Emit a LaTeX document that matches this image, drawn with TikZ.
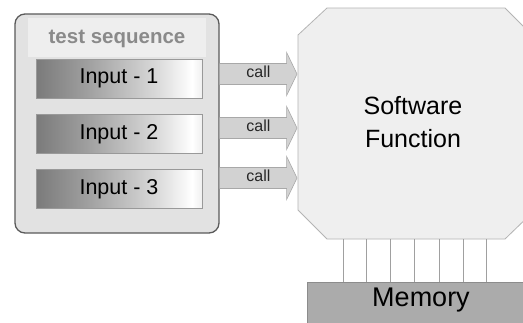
\documentclass[tikz,border=0pt]{standalone}
\usepackage{fontspec}
\setmainfont{Liberation Sans}
\usetikzlibrary{calc}
\definecolor{boxfill}{HTML}{E2E2E2}
\definecolor{bandfill}{HTML}{EEEEEE}
\definecolor{boxline}{HTML}{5A5A5A}
\definecolor{titlegray}{HTML}{8A8A8A}
\definecolor{arrowfill}{HTML}{D2D2D2}
\definecolor{arrowline}{HTML}{A8A8A8}
\definecolor{funcfill}{HTML}{EFEFEF}
\definecolor{funcline}{HTML}{B4B4B4}
\definecolor{memfill}{HTML}{ABABAB}
\definecolor{memline}{HTML}{8C8C8C}
\definecolor{busline}{HTML}{A0A0A0}
\pgfdeclarehorizontalshading{inputshade}{100bp}{
  color(0bp)=(black!52); color(25bp)=(black!52); color(40bp)=(black!38);
  color(62bp)=(black!14); color(72bp)=(white); color(78bp)=(black!12);
  color(88bp)=(black!30); color(100bp)=(black!48)}
\tikzset{
  inputbox/.style={draw=black!40, line width=0.6pt, shading=inputshade,
    minimum width=166pt, minimum height=39pt, inner sep=0pt,
    font=\fontsize{21.5}{23}\selectfont},
  callarrow/.style={fill=arrowfill, draw=arrowline, line width=0.6pt},
  calltext/.style={font=\fontsize{16}{17}\selectfont, text=black!85},
  bus/.style={draw=busline, line width=0.6pt},
}
\begin{document}
\begin{tikzpicture}[x=1pt,y=-1pt]
\useasboundingbox[fill=white] (0,0) rectangle (523,322);

% test sequence container
\node[draw=boxline, line width=1.3pt, fill=boxfill, rounded corners=10pt,
  minimum width=204pt, minimum height=219pt, inner sep=0pt] (seq) at (117,123.5) {};
\node[fill=bandfill, minimum width=178pt, minimum height=39pt, inner sep=0pt] (band) at (117,37.5) {};
\node[font=\bfseries\fontsize{20.5}{22}\selectfont, text=titlegray] (title) at (117,39) {test sequence};

% the three inputs
\node[inputbox] (in1) at (119,78.5) {Input - 1};
\node[inputbox] (in2) at (119,134) {Input - 2};
\node[inputbox] (in3) at (119,189) {Input - 3};

% software function block (octagon, runs off the right edge)
\coordinate (f1) at (298,35);
\coordinate (f2) at (327,8);
\coordinate (f3) at (505,8);
\coordinate (f4) at (535,38);
\coordinate (f5) at (535,210);
\coordinate (f6) at (505,239);
\coordinate (f7) at (327,239);
\coordinate (f8) at (298,210);
\draw[fill=funcfill, draw=funcline, line width=0.8pt]
  (f1) -- (f2) -- (f3) -- (f4) -- (f5) -- (f6) -- (f7) -- (f8) -- cycle;
\node[font=\fontsize{25}{33}\selectfont, align=center] (sf) at (413,122) {Software\\Function};

% memory block
\node[draw=memline, fill=memfill, line width=0.6pt, minimum width=230pt,
  minimum height=50pt, inner sep=0pt, anchor=north west] (mem) at (307,282) {};
\node[font=\fontsize{27}{28}\selectfont] (memtxt) at (421,300) {Memory};

% bus lines between function and memory
\foreach \x in {343,366,390,414,439,463,486} {
  \draw[bus] (\x,239) -- (\x,282);
}

% call arrows from the container to the function block
\foreach \n/\y in {1/74, 2/128, 3/178} {
  \coordinate (a\n s) at ($(seq.east) + (0,\y-123.5)$);
  \draw[callarrow]
    ($(a\n s)+(0,-10.5)$) -- ++(67,0) -- ++(0,-11) -- (297,\y)
    -- ($(a\n s)+(67,21.5)$) -- ++(0,-11) -- ($(a\n s)+(0,10.5)$);
  \node[calltext] (c\n) at (258.5,\y-2) {call};
}
\end{tikzpicture}
\end{document}
